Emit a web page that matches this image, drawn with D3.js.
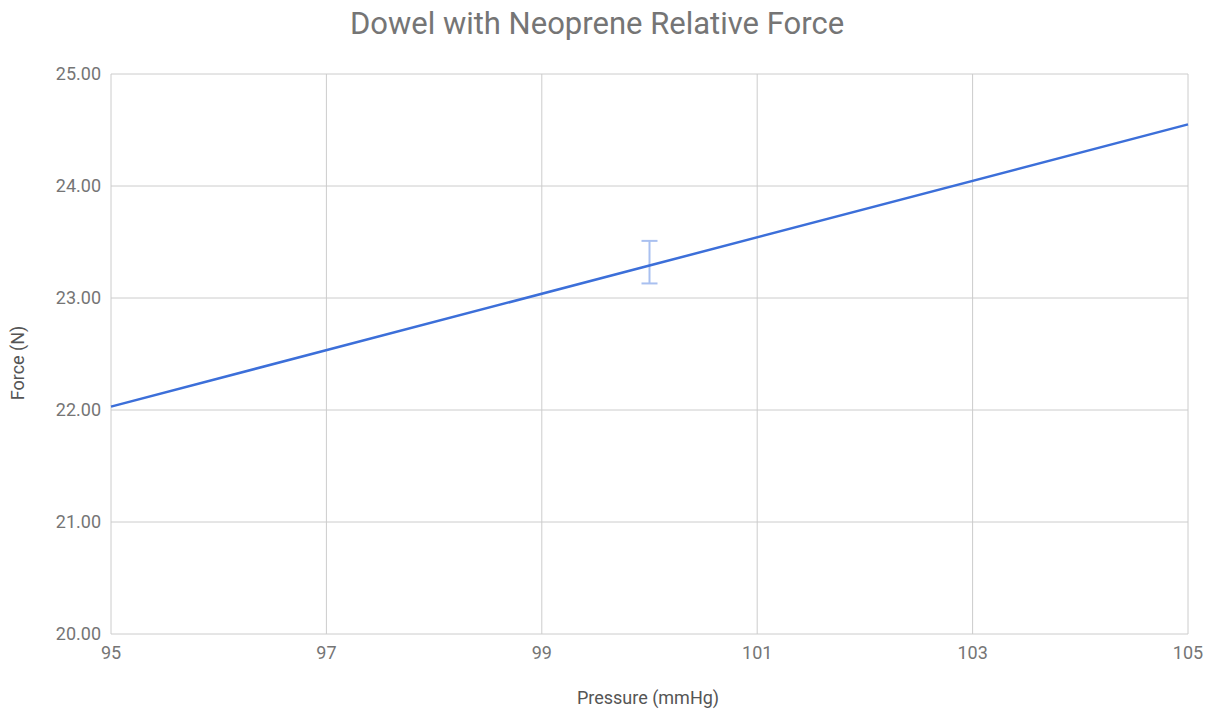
<!DOCTYPE html>
<html>
<head>
<meta charset="utf-8">
<script src="https://cdn.jsdelivr.net/npm/d3@7"></script>
<style>
  body { margin: 0; background: #fff; }
  text { font-family: Roboto, "Noto Sans", sans-serif; }
</style>
</head>
<body>
<svg id="chart" width="1213" height="710"></svg>
<script>
// Data
var pressure = [95, 100, 105];
var force = [22.03, 23.29, 24.55];
var errorLow = [null, 23.13, null];
var errorHigh = [null, 23.51, null];
var xTicks = [95, 97, 99, 101, 103, 105];
var yTicks = [20, 21, 22, 23, 24, 25];

var width = 1213;
var height = 710;
var margin = { top: 74, right: 25, bottom: 76, left: 111 };

var svg = d3.select("#chart");

var xScale = d3.scaleLinear()
  .domain([95, 105])
  .range([margin.left, width - margin.right]);

var yScale = d3.scaleLinear()
  .domain([20, 25])
  .range([height - margin.bottom, margin.top]);

// Gridlines
svg.append("g")
  .selectAll("line")
  .data(xTicks)
  .enter()
  .append("line")
  .attr("x1", function(d) { return xScale(d); })
  .attr("x2", function(d) { return xScale(d); })
  .attr("y1", yScale(25))
  .attr("y2", yScale(20))
  .attr("stroke", "#cccccc")
  .attr("stroke-width", 1);

svg.append("g")
  .selectAll("line")
  .data(yTicks)
  .enter()
  .append("line")
  .attr("x1", xScale(95))
  .attr("x2", xScale(105))
  .attr("y1", function(d) { return yScale(d); })
  .attr("y2", function(d) { return yScale(d); })
  .attr("stroke", "#cccccc")
  .attr("stroke-width", 1);

// Tick labels
svg.append("g")
  .selectAll("text")
  .data(yTicks)
  .enter()
  .append("text")
  .attr("x", xScale(95) - 10)
  .attr("y", function(d) { return yScale(d) + 6; })
  .attr("text-anchor", "end")
  .attr("font-size", 18)
  .attr("fill", "#757575")
  .text(function(d) { return d3.format(".2f")(d); });

svg.append("g")
  .selectAll("text")
  .data(xTicks)
  .enter()
  .append("text")
  .attr("x", function(d) { return xScale(d); })
  .attr("y", yScale(20) + 25)
  .attr("text-anchor", "middle")
  .attr("font-size", 18)
  .attr("fill", "#757575")
  .text(function(d) { return d; });

// Error bars
var errData = pressure.map(function(p, i) {
  return { x: p, lo: errorLow[i], hi: errorHigh[i] };
}).filter(function(d) { return d.lo !== null; });

var err = svg.append("g")
  .attr("stroke", "#a9c0f0")
  .attr("stroke-width", 2);

errData.forEach(function(d) {
  var cx = xScale(d.x);
  err.append("line").attr("x1", cx).attr("x2", cx)
    .attr("y1", yScale(d.hi)).attr("y2", yScale(d.lo));
  err.append("line").attr("x1", cx - 8).attr("x2", cx + 8)
    .attr("y1", yScale(d.hi)).attr("y2", yScale(d.hi));
  err.append("line").attr("x1", cx - 8).attr("x2", cx + 8)
    .attr("y1", yScale(d.lo)).attr("y2", yScale(d.lo));
});

// Series line
var line = d3.line()
  .x(function(d) { return xScale(d[0]); })
  .y(function(d) { return yScale(d[1]); });

svg.append("path")
  .datum(d3.zip(pressure, force))
  .attr("d", line)
  .attr("fill", "none")
  .attr("stroke", "#3c6fd9")
  .attr("stroke-width", 2.5);

// Title and axis titles
svg.append("text")
  .attr("x", 597)
  .attr("y", 34)
  .attr("text-anchor", "middle")
  .attr("font-size", 31)
  .attr("fill", "#757575")
  .text("Dowel with Neoprene Relative Force");

svg.append("text")
  .attr("x", 648)
  .attr("y", 704)
  .attr("text-anchor", "middle")
  .attr("font-size", 18)
  .attr("fill", "#555555")
  .text("Pressure (mmHg)");

svg.append("text")
  .attr("transform", "translate(24,363) rotate(-90)")
  .attr("text-anchor", "middle")
  .attr("font-size", 18)
  .attr("fill", "#555555")
  .text("Force (N)");
</script>
</body>
</html>
